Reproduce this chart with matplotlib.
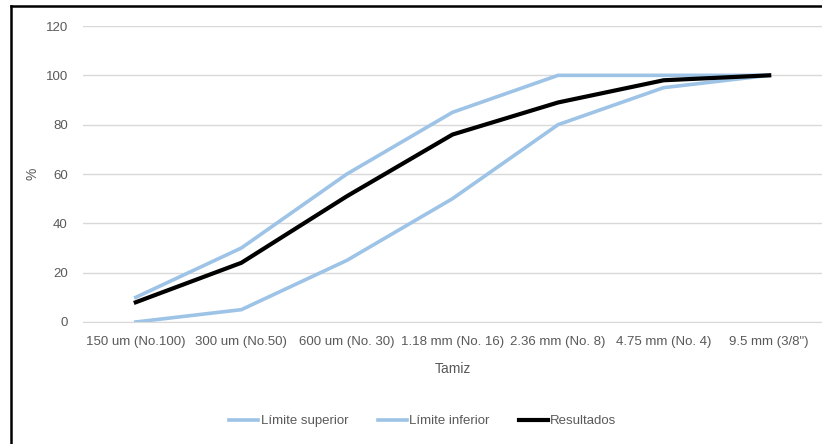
import matplotlib.pyplot as plt
from matplotlib.lines import Line2D

# data

tamices = [
    "150 um (No.100)",
    "300 um (No.50)",
    "600 um (No. 30)",
    "1.18 mm (No. 16)",
    "2.36 mm (No. 8)",
    "4.75 mm (No. 4)",
    "9.5 mm (3/8\")",
]

limite_superior = [10, 30, 60, 85, 100, 100, 100]
limite_inferior = [0, 5, 25, 50, 80, 95, 100]
resultados = [8, 24, 51, 76, 89, 98, 100]

blue = "#9DC3E6"
gray_text = "#595959"

plt.rcParams["font.family"] = ["Liberation Sans Narrow", "Liberation Sans", "DejaVu Sans"]

fig = plt.figure(figsize=(8.22, 4.44), dpi=100)
ax = fig.add_axes([83 / 822, 122 / 444, 739 / 822, 296 / 444])

x = range(len(tamices))

ax.plot(x, limite_superior, color=blue, linewidth=2.6, label="Límite superior")
ax.plot(x, limite_inferior, color=blue, linewidth=2.6, label="Límite inferior")
ax.plot(x, resultados, color="black", linewidth=3, label="Resultados")

ax.set_xlim(-0.5, len(tamices) - 0.5)
ax.set_ylim(0, 120)
ax.set_yticks(range(0, 121, 20))
ax.set_xticks(list(x))
ax.set_xticklabels(tamices)

ax.grid(axis="y", color="#D9D9D9", linewidth=1)
ax.set_axisbelow(True)
for side in ["top", "right", "left"]:
    ax.spines[side].set_visible(False)
ax.spines["bottom"].set_color("#D9D9D9")
ax.tick_params(length=0, colors=gray_text, labelsize=9.5)
ax.tick_params(axis="x", pad=10)
ax.tick_params(axis="y", pad=11)

ax.set_xlabel("Tamiz", color=gray_text, fontsize=10, labelpad=10)
ax.set_ylabel("%", color=gray_text, fontsize=10, labelpad=4)

ax.legend(
    loc="center",
    bbox_to_anchor=(340 / 739, -0.335),
    ncol=3,
    frameon=False,
    fontsize=9.5,
    labelcolor=gray_text,
    handlelength=2.2,
    handletextpad=0.2,
    columnspacing=2.2,
)

# black frame on left and top edges
fig.add_artist(Line2D([11 / 822, 11 / 822], [0, 438 / 444], color="black", linewidth=1.8, transform=fig.transFigure))
fig.add_artist(Line2D([11 / 822, 1], [438 / 444, 438 / 444], color="black", linewidth=1.8, transform=fig.transFigure))

plt.savefig("out.png", dpi=100)
